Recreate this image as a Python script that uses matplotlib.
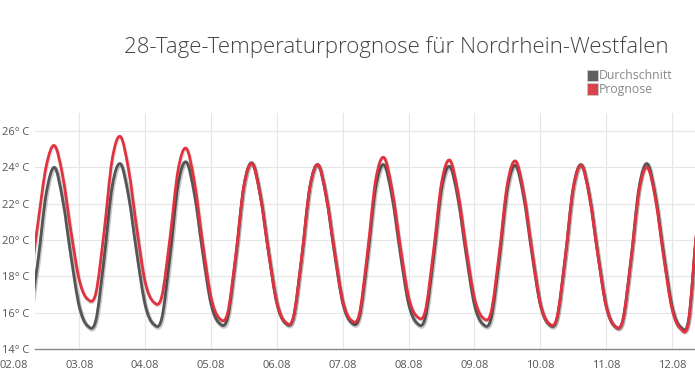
import matplotlib
matplotlib.use("Agg")
import matplotlib.pyplot as plt
import matplotlib.dates as mdates
import matplotlib.patheffects as pe
from matplotlib.path import Path
from matplotlib.patches import PathPatch, Rectangle
from matplotlib.transforms import blended_transform_factory
import numpy as np
import pandas as pd

plt.rcParams["font.family"] = ["Open Sans", "DejaVu Sans"]

# 3-hourly temperatures, starting 02.08 06:00
start = "2025-08-02 06:00"
durchschnitt = [
    15.7, 18.9, 22.6, 24.0, 22.2, 19.1,                      # 02.08
    16.35, 15.28, 15.55, 18.9, 22.95, 24.2, 22.4, 19.25,     # 03.08
    16.45, 15.38, 15.65, 19.0, 23.05, 24.3, 22.5, 19.3,      # 04.08
    16.5, 15.43, 15.7, 19.03, 23.0, 24.25, 22.45, 19.3,      # 05.08
    16.53, 15.45, 15.71, 19.0, 22.9, 24.15, 22.38, 19.28,    # 06.08
    16.55, 15.48, 15.74, 19.02, 22.9, 24.15, 22.37, 19.25,   # 07.08
    16.5, 15.43, 15.69, 18.95, 22.82, 24.05, 22.28, 19.18,   # 08.08
    16.44, 15.38, 15.65, 18.94, 22.85, 24.1, 22.32, 19.2,    # 09.08
    16.45, 15.38, 15.65, 18.96, 22.9, 24.15, 22.34, 19.17,   # 10.08
    16.37, 15.28, 15.56, 18.92, 22.93, 24.2, 22.37, 19.17,   # 11.08
    16.33, 15.23, 15.6, 20.5, 23.5,                          # 12.08
]
prognose = [
    17.6, 21.0, 24.1, 25.2, 23.5, 20.45,                     # 02.08
    17.8, 16.75, 17.05, 20.4, 24.45, 25.7, 23.85, 20.6,      # 03.08
    17.7, 16.6, 16.85, 20.05, 23.85, 25.05, 23.15, 19.8,     # 04.08
    16.85, 15.7, 15.95, 19.15, 23.0, 24.2, 22.4, 19.3,       # 05.08
    16.55, 15.5, 15.75, 19.0, 22.9, 24.15, 22.4, 19.4,       # 06.08
    16.65, 15.6, 15.9, 19.3, 23.3, 24.55, 22.75, 19.6,       # 07.08
    16.85, 15.8, 16.05, 19.3, 23.15, 24.4, 22.6, 19.5,       # 08.08
    16.8, 15.73, 16.0, 19.25, 23.1, 24.35, 22.55, 19.35,     # 09.08
    16.5, 15.43, 15.7, 18.95, 22.85, 24.1, 22.3, 19.15,      # 10.08
    16.35, 15.28, 15.55, 18.85, 22.75, 24.0, 22.2, 19.0,     # 11.08
    16.2, 15.13, 15.5, 20.6, 23.5,                           # 12.08
]
day_labels = ["02.08", "03.08", "04.08", "05.08", "06.08", "07.08",
              "08.08", "09.08", "10.08", "11.08", "12.08"]
y_ticks = [14, 16, 18, 20, 22, 24, 26]


def spline_path(x, y):
    # smooth curve through the points (Catmull-Rom as cubic Bezier)
    p = np.column_stack([x, y])
    p = np.vstack([p[0], p, p[-1]])
    verts = [p[1]]
    codes = [Path.MOVETO]
    for i in range(1, len(p) - 2):
        c1 = p[i] + (p[i + 1] - p[i - 1]) / 6
        c2 = p[i + 1] - (p[i + 2] - p[i]) / 6
        verts += [c1, c2, p[i + 1]]
        codes += [Path.CURVE4] * 3
    return Path(verts, codes)


times = mdates.date2num(pd.date_range(start, periods=len(durchschnitt), freq="3h"))
days = mdates.date2num(pd.date_range("2025-08-02", periods=len(day_labels), freq="D"))

fig = plt.figure(figsize=(6.95, 3.91), dpi=100)
ax = fig.add_axes([35 / 695, 42 / 391, 660 / 695, 236 / 391])

ax.add_patch(PathPatch(spline_path(times, durchschnitt), fill=False, edgecolor="#555555",
                       linewidth=2.0, zorder=3, capstyle="round",
                       path_effects=[pe.SimpleLineShadow(offset=(0.5, -0.8), alpha=0.22, linewidth=3.0),
                                     pe.Normal()]))
ax.add_patch(PathPatch(spline_path(times, prognose), fill=False, edgecolor="#e0323f",
                       linewidth=2.0, zorder=4, capstyle="round",
                       path_effects=[pe.SimpleLineShadow(offset=(0.5, -0.8), alpha=0.12, linewidth=2.6),
                                     pe.Normal()]))

t0 = days[0] + 7.87 / 24
ax.set_xlim(t0, t0 + 10.02)
ax.set_ylim(14, 27)

ax.set_xticks(days[1:])
ax.set_xticklabels(day_labels[1:])
ax.set_yticks(y_ticks)
ax.set_yticklabels([f"{v}° C" for v in y_ticks])
ax.tick_params(length=0, labelsize=8, labelcolor="#555555")
ax.tick_params(axis="y", pad=4)
ax.tick_params(axis="x", pad=8)
ax.grid(color="#e6e6e6", linewidth=0.8)
ax.set_axisbelow(True)
for side in ["top", "right", "left"]:
    ax.spines[side].set_visible(False)
ax.spines["bottom"].set_color("#888888")
ax.spines["bottom"].set_linewidth(1.0)

# first date label sits left of the plot area, level with the other tick labels
trans = blended_transform_factory(ax.transData, ax.transAxes)
ax.text(days[0], -0.047, day_labels[0], transform=trans, ha="center", va="top",
        fontsize=8, color="#555555", clip_on=False)

fig.text(396 / 695, 1 - 47 / 391, "28-Tage-Temperaturprognose für Nordrhein-Westfalen",
         ha="center", va="center", fontsize=16, color="#444444", fontweight="light")

# legend
for i, (name, col) in enumerate([("Durchschnitt", "#5f5f5f"), ("Prognose", "#d9434e")]):
    y = 1 - (81 + 13.5 * i) / 391
    fig.add_artist(Rectangle((587 / 695, y), 11 / 695, 11 / 391, transform=fig.transFigure,
                             facecolor=col, edgecolor="#cccccc", linewidth=0.6))
    fig.text(599 / 695, y + 5.5 / 391, name, ha="left", va="center", fontsize=8.8,
             color="#888888")

fig.savefig("out.png", dpi=100, facecolor="white")
